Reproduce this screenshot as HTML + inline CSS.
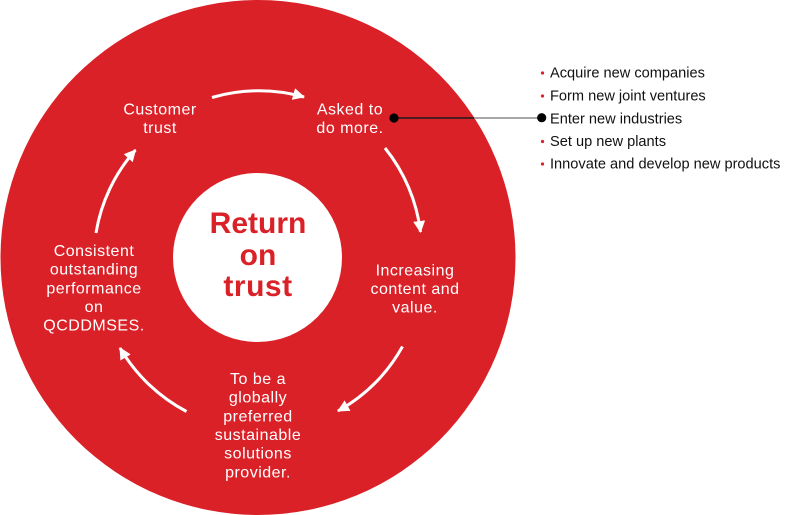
<!DOCTYPE html>
<html>
<head>
<meta charset="utf-8">
<style>
  html, body { margin: 0; padding: 0; background: #ffffff; }
  svg { display: block; }
  .w { fill: #ffffff; font-family: "Liberation Sans", sans-serif; font-size: 16px; letter-spacing: 0.5px; }
  .c { fill: #DA2128; font-family: "Liberation Sans", sans-serif; font-size: 30px; font-weight: bold; }
  .b { fill: #111111; font-family: "Liberation Sans", sans-serif; font-size: 14.6px; }
</style>
</head>
<body>
<svg width="800" height="515" viewBox="0 0 800 515" xmlns="http://www.w3.org/2000/svg">
  <defs>
    <marker id="ah" markerUnits="userSpaceOnUse" markerWidth="14" markerHeight="12" refX="11" refY="6" orient="auto">
      <path d="M0,0 L12,6 L0,12 Z" fill="#ffffff"/>
    </marker>
  </defs>
  <!-- outer red circle -->
  <circle cx="258" cy="257.5" r="257.5" fill="#DA2128"/>
  <!-- inner white circle -->
  <circle cx="257.5" cy="257.5" r="84.5" fill="#ffffff"/>

  <!-- arrows -->
  <g fill="none" stroke="#ffffff" stroke-width="3" marker-end="url(#ah)">
    <path d="M212,97.5 A166,166 0 0 1 304,97"/>
    <path d="M385,148 A166,166 0 0 1 420.5,232"/>
    <path d="M402.5,346.5 A168,168 0 0 1 338,411"/>
    <path d="M186.5,411.5 A168,168 0 0 1 120,348"/>
    <path d="M96,233 A165,165 0 0 1 135.5,150"/>
  </g>

  <!-- center text -->
  <text class="c" x="258" y="233" text-anchor="middle">Return</text>
  <text class="c" x="258" y="265" text-anchor="middle">on</text>
  <text class="c" x="258" y="296" text-anchor="middle" letter-spacing="0.5">trust</text>

  <!-- node labels -->
  <g class="w" text-anchor="middle">
    <text x="160" y="114.3">Customer</text>
    <text x="160" y="133">trust</text>

    <text x="350" y="114.3">Asked to</text>
    <text x="350" y="133">do more.</text>

    <text x="415" y="275.3">Increasing</text>
    <text x="415" y="294">content and</text>
    <text x="415" y="312.5">value.</text>

    <text x="258" y="384">To be a</text>
    <text x="258" y="402.7">globally</text>
    <text x="258" y="421.3">preferred</text>
    <text x="258" y="440">sustainable</text>
    <text x="258" y="458.7">solutions</text>
    <text x="258" y="477.3">provider.</text>

    <text x="94" y="256">Consistent</text>
    <text x="94" y="274.7">outstanding</text>
    <text x="94" y="293.3">performance</text>
    <text x="94" y="312">on</text>
    <text x="94" y="330.7">QCDDMSES.</text>
  </g>

  <!-- callout line -->
  <line x1="394" y1="118" x2="474" y2="118" stroke="#1a1a1a" stroke-width="1.5"/>
  <line x1="474" y1="118" x2="541" y2="118" stroke="#8a8a8a" stroke-width="1.5"/>
  <circle cx="394" cy="118" r="4.6" fill="#000000"/>
  <circle cx="541.7" cy="117.7" r="4.6" fill="#000000"/>

  <!-- bullets -->
  <circle cx="542.5" cy="73" r="1.6" fill="#DA2128"/>
  <circle cx="542.5" cy="96" r="1.6" fill="#DA2128"/>
  <circle cx="542.5" cy="141.5" r="1.6" fill="#DA2128"/>
  <circle cx="542.5" cy="164" r="1.6" fill="#DA2128"/>

  <g class="b">
    <text x="550" y="77.7">Acquire new companies</text>
    <text x="550" y="100.7">Form new joint ventures</text>
    <text x="550" y="123.3">Enter new industries</text>
    <text x="550" y="146">Set up new plants</text>
    <text x="550" y="168.5">Innovate and develop new products</text>
  </g>
</svg>
</body>
</html>
